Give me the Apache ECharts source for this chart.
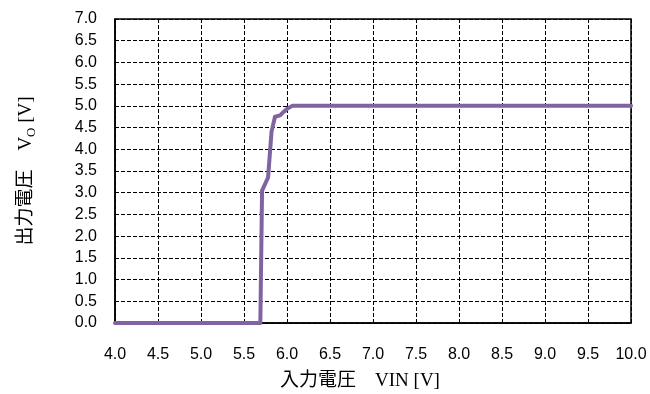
<!DOCTYPE html>
<html>
<head>
<meta charset="utf-8">
<script src="https://cdn.jsdelivr.net/npm/echarts@6/dist/echarts.min.js"></script>
<style>
  html, body { margin: 0; padding: 0; background: #fff; }
  #chart { width: 650px; height: 394px; }
</style>
</head>
<body>
<div id="chart"></div>
<script>
// Input voltage sweep (V) and measured output voltage (V)
const vin  = [4.0, 5.69, 5.71, 5.78, 5.82, 5.86, 5.92, 5.96, 6.0, 6.06, 10.0];
const vout = [0.0, 0.0,  3.05, 3.35, 4.4,  4.75, 4.78, 4.86, 4.93, 5.0, 5.0];

// Axis ranges and tick spacing
const xMin = 4.0, xMax = 10.0, xStep = 0.5;
const yMin = 0.0, yMax = 7.0, yStep = 0.5;

const xTitle = '入力電圧　VIN [V]';
const yTitleMain = '出力電圧　V';
const yTitleSub = 'O';
const yTitleUnit = ' [V]';

const serif = '"Liberation Serif", "Noto Sans CJK JP", serif';
const sans = '"Liberation Sans", Arial, sans-serif';

const points = vin.map((x, i) => [x, vout[i]]);

const gridLine = { show: true, lineStyle: { color: '#000', width: 1, type: [4, 2] } };

const chart = echarts.init(document.getElementById('chart'), null, { renderer: 'canvas' });
chart.setOption({
  animation: false,
  backgroundColor: '#fff',
  grid: {
    left: 115, right: 19, top: 19, bottom: 71,
    outerBoundsMode: 'none',
    containLabel: false,
    show: true, borderColor: '#000', borderWidth: 1.5, backgroundColor: 'transparent'
  },
  xAxis: {
    type: 'value',
    min: xMin, max: xMax, interval: xStep,
    axisLine: { show: true, lineStyle: { color: '#000', width: 1.5 } },
    axisTick: { show: false },
    splitLine: gridLine,
    axisLabel: {
      color: '#000', fontFamily: sans, fontSize: 16, margin: 24,
      formatter: v => v.toFixed(1)
    },
    name: xTitle,
    nameLocation: 'middle',
    nameGap: 49,
    nameTextStyle: { color: '#000', fontFamily: serif, fontSize: 19, padding: [0, 26, 0, 0] }
  },
  yAxis: {
    type: 'value',
    min: yMin, max: yMax, interval: yStep,
    axisLine: { show: true, lineStyle: { color: '#000', width: 1.5 } },
    axisTick: { show: false },
    splitLine: gridLine,
    axisLabel: {
      color: '#000', fontFamily: sans, fontSize: 16, margin: 18,
      formatter: v => v.toFixed(1)
    },
    name: '{t|' + yTitleMain + '}{s|' + yTitleSub + '}{t|' + yTitleUnit + '}',
    nameLocation: 'middle',
    nameRotate: 90,
    nameGap: 77,
    nameTextStyle: {
      color: '#000',
      rich: {
        t: { fontFamily: serif, fontSize: 19, color: '#000', lineHeight: 24 },
        s: { fontFamily: serif, fontSize: 13, color: '#000', lineHeight: 24, verticalAlign: 'bottom' }
      }
    }
  },
  series: [{
    type: 'line',
    data: points,
    showSymbol: false,
    symbol: 'none',
    smooth: false,
    lineStyle: { color: '#8064A2', width: 4, cap: 'round', join: 'round' },
    z: 5
  }]
});
</script>
</body>
</html>
